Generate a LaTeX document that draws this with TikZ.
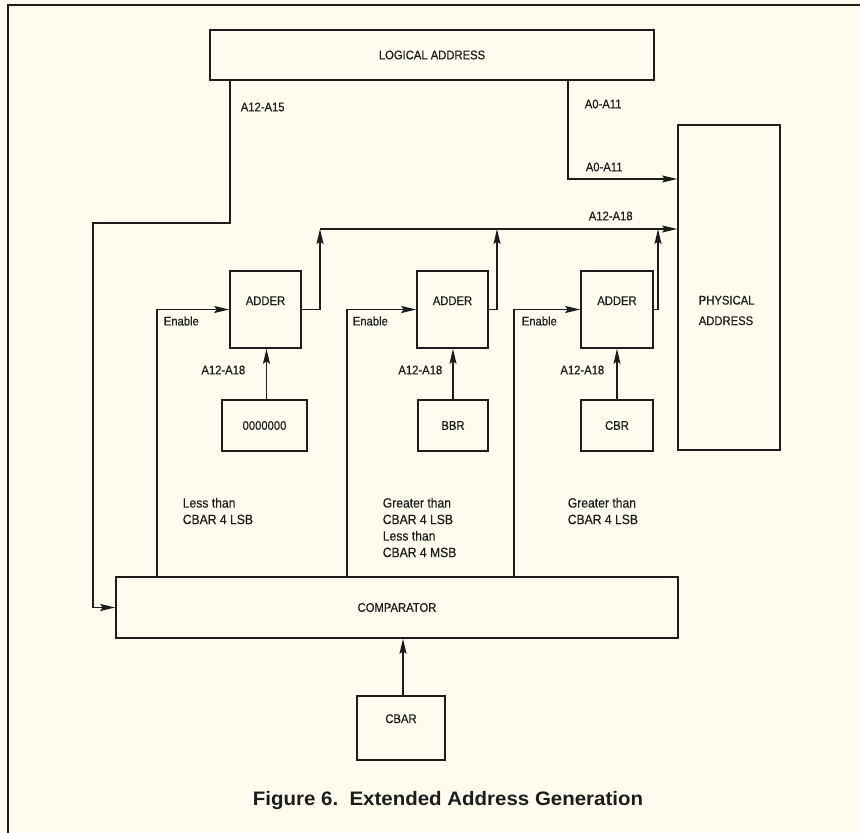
\documentclass[tikz,border=0pt]{standalone}
\usepackage{fontspec}
\setmainfont{Liberation Sans}[FakeStretch=0.9, FakeBold=0.4]
\newfontfamily\capfont{Liberation Sans}[FakeStretch=1.05]
\usepackage{tikz}
\usetikzlibrary{arrows.meta, calc, positioning}
\definecolor{paper}{HTML}{FDFCEE}
\definecolor{ink}{HTML}{1C1C1C}

\begin{document}
\begin{tikzpicture}[x=1pt, y=-1pt, color=ink, line width=1.6pt,
  >={Stealth[length=15pt, width=7pt, inset=2.5pt]},
  box/.style={draw, rectangle, inner sep=0pt, font=\fontsize{12.5}{15}\selectfont},
  adder/.style={box, minimum width=71pt, minimum height=77pt, text height=34pt, text depth=43pt},
  reg/.style={box, minimum height=51pt},
  lbl/.style={font=\fontsize{12.5}{16.5}\selectfont, inner sep=0pt, align=left},
  cond/.style={lbl, font=\fontsize{13.5}{16.5}\selectfont, anchor=north west}]
  \fill[paper] (0,0) rectangle (860,833);
  \useasboundingbox (0,0) rectangle (860,833);
  \draw (860,5) -- (8,5) -- (8,833);

  \node[box, minimum width=444pt, minimum height=50pt] (logical) at (432,55) {LOGICAL ADDRESS};
  \node[box, minimum width=102pt, minimum height=325pt] (phys) at (729,287.5) {};
  \node[lbl, anchor=north west] (physT) at (698,295) {PHYSICAL\\[4pt]ADDRESS};

  \node[adder] (add1) at (265.5,309.5) {ADDER};
  \node[adder] (add2) at (452.5,309.5) {ADDER};
  \node[adder, minimum width=72pt] (add3) at (617,309.5) {ADDER};

  \node[reg, minimum width=85pt] (zero) at (264.5,425.5) {0000000};
  \node[reg, minimum width=70pt] (bbr) at (453,425.5) {BBR};
  \node[reg, minimum width=72pt] (cbr) at (617,425.5) {CBR};

  \node[box, minimum width=562pt, minimum height=61pt] (comp) at (397,607.5) {COMPARATOR};
  \node[box, minimum width=88pt, minimum height=64pt, text height=27pt, text depth=37pt] (cbar) at (401,728) {CBAR};

  \coordinate (a15) at (230,223);
  \coordinate (a15b) at (93,223);
  \coordinate (a0) at (568,179);
  \coordinate (bus1) at (320,229);
  \coordinate (bus2) at (497,229);
  \coordinate (bus3) at (658,229);
  \coordinate (en1) at (157,0);
  \coordinate (en2) at (347,0);
  \coordinate (en3) at (514,0);

  \draw[->] (logical.south -| a15) -- (a15) -- (a15b) |- (comp.west);
  \draw[->] (logical.south -| a0) |- (phys.west |- a0);
  \draw[->] (bus1) -- (phys.west |- bus1);
  \draw[->] (add1.east) -| (bus1);
  \draw[->] (add2.east) -| (bus2);
  \draw[->] (add3.east) -| (bus3);
  \draw[->] ([xshift=2pt]zero.north) -- ([xshift=2pt]zero.north |- add1.south);
  \draw[->] (bbr.north) -- (bbr.north |- add2.south);
  \draw[->] (cbr.north) -- (cbr.north |- add3.south);
  \draw[->] (comp.north -| en1) |- (add1.west);
  \draw[->] (comp.north -| en2) |- (add2.west);
  \draw[->] (comp.north -| en3) |- (add3.west);
  \draw[->] ([xshift=2pt]cbar.north) -- ([xshift=2pt]cbar.north |- comp.south);

  \node[lbl, anchor=west] (tA15) at (240,107) {A12-A15};
  \node[lbl, anchor=west] (tA0a) at (584,104) {A0-A11};
  \node[lbl, anchor=west] (tA0b) at (585,167) {A0-A11};
  \node[lbl, anchor=west] (tbus) at (588,216) {A12-A18};
  \node[lbl, anchor=east] (tin1) at (246,370) {A12-A18};
  \node[lbl, anchor=east] (tin2) at (443,370) {A12-A18};
  \node[lbl, anchor=east] (tin3) at (605,370) {A12-A18};
  \node[lbl, anchor=west] (ten1) at (163,321) {Enable};
  \node[lbl, anchor=west] (ten2) at (352,321) {Enable};
  \node[lbl, anchor=west] (ten3) at (521,321) {Enable};
  \node[cond] (less) at (182,497) {Less than\\CBAR 4 LSB};
  \node[cond] (between) at (382,497) {Greater than\\CBAR 4 LSB\\Less than\\CBAR 4 MSB};
  \node[cond] (greater) at (567,497) {Greater than\\CBAR 4 LSB};

  \node[font={\capfont\bfseries\fontsize{19.5}{22}\selectfont}] (caption) at (448,800) {Figure 6.\ \ Extended Address Generation};
\end{tikzpicture}
\end{document}
